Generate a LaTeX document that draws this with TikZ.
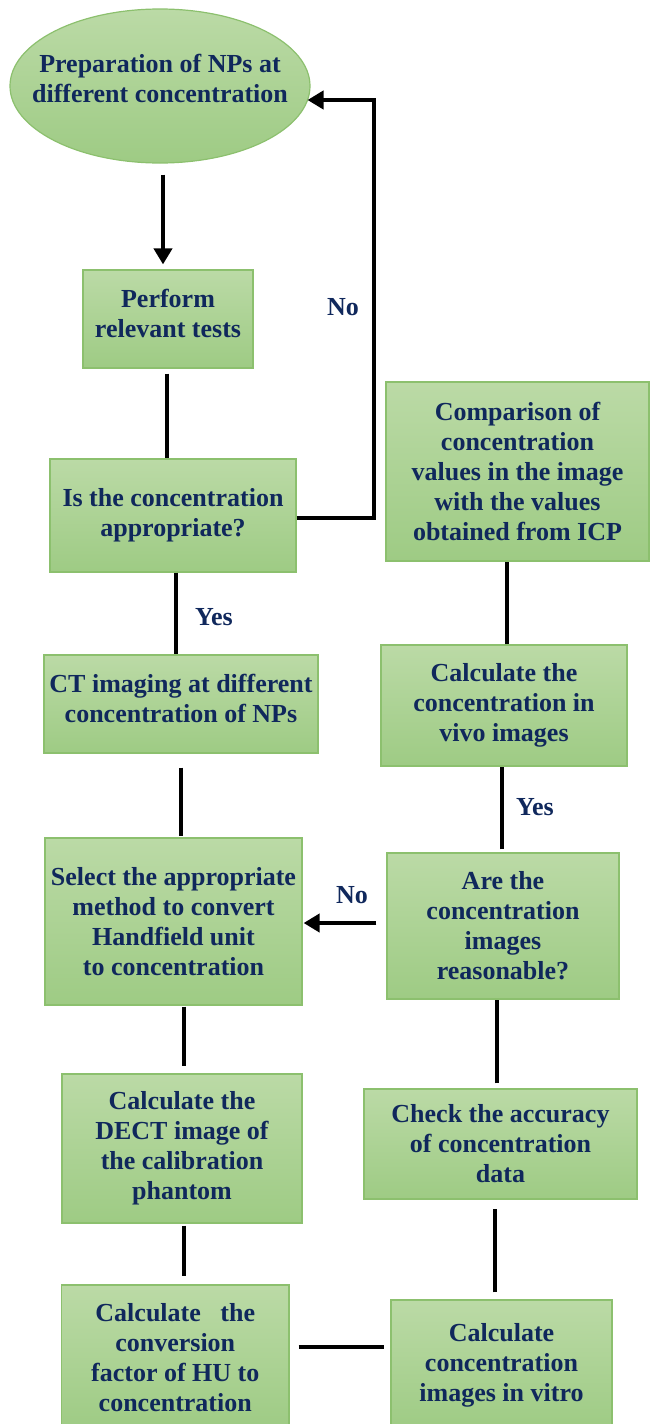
\documentclass[tikz,border=0pt]{standalone}
\usepackage{fontspec}
\setmainfont{Liberation Serif}
\usetikzlibrary{arrows.meta,shapes.geometric,calc}
\definecolor{navy}{RGB}{16,40,92}
\definecolor{gtop}{RGB}{187,218,166}
\definecolor{gbot}{RGB}{158,203,132}
\definecolor{gline}{RGB}{140,192,110}
\begin{document}
\begin{tikzpicture}[x=1pt,y=-1pt,
  box/.style={rectangle, draw=gline, line width=1.2pt, top color=gtop, bottom color=gbot,
    inner sep=0pt, font=\fontsize{26}{30}\selectfont\bfseries, text=navy, align=center},
  lbl/.style={font=\fontsize{26}{30}\selectfont\bfseries, text=navy, align=center},
  conn/.style={line width=4.5pt, draw=black},
  arr/.style={conn, -{Triangle[length=16pt,width=18pt]}}]

\useasboundingbox (0,0) rectangle (650,1424);

% start ellipse
\node[ellipse, draw=gline, line width=1.2pt, top color=gtop, bottom color=gbot,
  minimum width=300pt, minimum height=154pt, inner sep=0pt] (ell) at (160,86) {};
\node[lbl] (ellt) at (160,78) {Preparation of NPs at\\different concentration};

% left column
\node[box, minimum width=170pt, minimum height=98pt,
  label={[lbl, yshift=6pt]center:{Perform\\relevant tests}}] (perf) at (168,319) {};
\node[box, minimum width=246pt, minimum height=113pt] (appr) at (173,515.5) {Is the concentration\\appropriate?};
\node[box, minimum width=274pt, minimum height=98pt,
  label={[lbl, yshift=6pt]center:{CT imaging at different\\concentration of NPs}}] (ct) at (181,704) {};
\node[box, minimum width=257pt, minimum height=167pt] (sel) at (173.5,921.5) {Select the appropriate\\method to convert\\Handfield unit\\to concentration};
\node[box, minimum width=240pt, minimum height=149pt] (dect) at (182,1148.5) {Calculate the\\DECT image of\\the calibration\\phantom};
\node[box, minimum width=227.5pt, minimum height=145pt] (conv) at (175.25,1357.5) {Calculate\hspace{0.5em} the\\conversion\\factor of HU to\\concentration};

% right column
\node[box, minimum width=263pt, minimum height=179pt] (comp) at (517.5,471.5) {Comparison of\\concentration\\values in the image\\with the values\\obtained from ICP};
\node[box, minimum width=246pt, minimum height=121pt] (vivo) at (504,705.5) {Calculate the\\concentration in\\vivo images};
\node[box, minimum width=232pt, minimum height=146pt] (reas) at (503,926) {Are the\\concentration\\images\\reasonable?};
\node[box, minimum width=273pt, minimum height=110pt] (check) at (500.5,1144) {Check the accuracy\\of concentration\\data};
\node[box, minimum width=221pt, minimum height=130pt] (vitro) at (501.5,1365) {Calculate\\concentration\\images in vitro};

% labels
\node[lbl] (no1) at (343,307) {No};
\node[lbl] (yes1) at (214,617) {Yes};
\node[lbl] (no2) at (352,895) {No};
\node[lbl] (yes2) at (535,807) {Yes};

% loop corners
\coordinate (c1) at (374,518);
\coordinate (c2) at (374,100);

% connectors
\draw[arr] ($(ell.south)+(3,11)$) -- ($(perf.north)+(-5,-5)$);
\draw[conn] ($(perf.south)+(-1,5)$) -- ($(appr.north)+(-6,0)$);
\draw[arr, line join=miter] (appr.east |- c1) -- (c1) -- (c2) -- ($(ell.center)+(147.5,14)$);
\draw[conn] ($(appr.south)+(3,0)$) -- ($(ct.north)+(-5,0)$);
\draw[conn] ($(ct.south)+(0,14)$) -- ($(sel.north)+(7.5,-1)$);
\draw[conn] ($(sel.south)+(10.5,1)$) -- ($(dect.north)+(2,-7)$);
\draw[conn] ($(dect.south)+(2,2)$) -- ($(conv.north)+(8.75,-8)$);
\draw[conn] ($(conv.east)+(9,-10.5)$) -- ($(vitro.west)+(-6,-18)$);
\draw[conn] ($(vitro.north)+(-6.5,-7)$) -- ($(check.south)+(-5.5,9)$);
\draw[conn] ($(check.north)+(-3.5,-5)$) -- ($(reas.south)+(-6,0)$);
\draw[arr] ($(reas.west)+(-10,-3)$) -- ($(sel.east)+(1,1.5)$);
\draw[conn] ($(reas.north)+(-1,-3)$) -- ($(vivo.south)+(-2,0)$);
\draw[conn] ($(vivo.north)+(3,0)$) -- ($(comp.south)+(-10.5,0)$);
\end{tikzpicture}
\end{document}
